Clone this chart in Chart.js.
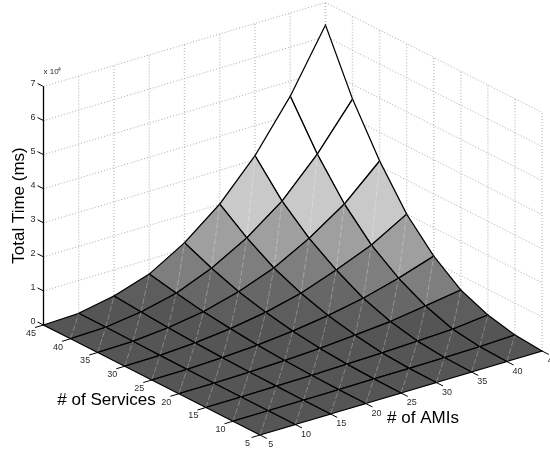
<!DOCTYPE html>
<html>
<head>
<meta charset="utf-8">
<title>Total time surface</title>
<style>
  html, body { margin: 0; padding: 0; background: #fff; }
  canvas { display: block; }
</style>
<script src="https://cdn.jsdelivr.net/npm/chart.js@4/dist/chart.umd.min.js"></script>
</head>
<body>
<canvas id="chart" width="550" height="450"></canvas>
<script>
// axis values
const services = [5, 10, 15, 20, 25, 30, 35, 40, 45];
const amis = [5, 10, 15, 20, 25, 30, 35, 40, 45];
const zTicks = [0, 1, 2, 3, 4, 5, 6, 7];

// total time in ms, one array per # of services, one value per # of AMIs
const timeS5 = [0, 0, 0, 0, 0, 0, 0, 0, 0];
const timeS10 = [0, 0, 0, 50, 100, 100, 200, 300, 660];
const timeS15 = [0, 0, 100, 200, 400, 600, 1000, 1400, 2500];
const timeS20 = [0, 0, 200, 500, 1000, 1800, 2700, 4200, 5800];
const timeS25 = [0, 50, 400, 1000, 2000, 3500, 5500, 8300, 11700];
const timeS30 = [0, 100, 700, 1800, 3500, 6000, 9760, 14000, 20000];
const timeS35 = [0, 200, 1100, 2700, 5500, 9400, 15000, 22000, 31550];
const timeS40 = [0, 300, 1700, 4100, 8350, 14200, 21900, 32600, 45700];
const timeS45 = [0, 350, 2350, 5700, 11800, 20100, 31200, 45600, 63400];
const totalTime = [timeS5, timeS10, timeS15, timeS20, timeS25, timeS30, timeS35, timeS40, timeS45];

const zScale = 10000; // the "x 10^4" on the axis

// view of the box: where the front corner lands and how each axis runs on screen
const front = { x: 260, y: 435 };
const perService = { x: -5.4125, y: -2.75 };
const perAmi = { x: 7.05, y: -2.1 };
const perZ = -34.07;

function project(s, a, z) {
  return {
    x: front.x + (s - 5) * perService.x + (a - 5) * perAmi.x,
    y: front.y + (s - 5) * perService.y + (a - 5) * perAmi.y + z * perZ
  };
}

// flat shading, a cell takes the gray of its first corner
function cellColor(z) {
  if (z >= 2.1) return '#ffffff';
  if (z >= 1.2) return '#c9c9c9';
  if (z >= 0.7) return '#9f9f9f';
  if (z >= 0.38) return '#7e7e7e';
  if (z >= 0.24) return '#676767';
  if (z >= 0.13) return '#5d5d5d';
  return '#555555';
}

function lineSet(points, color, width, dash) {
  return {
    data: points,
    showLine: true,
    fill: false,
    tension: 0,
    pointRadius: 0,
    borderColor: color,
    borderWidth: width,
    borderDash: dash || [],
    borderCapStyle: 'butt'
  };
}

const drawList = [];
const sMin = services[0], sMax = services[services.length - 1];
const aMin = amis[0], aMax = amis[amis.length - 1];
const zTop = zTicks[zTicks.length - 1];
const dotted = [1, 2];

// back walls
amis.slice(1).forEach(a => {
  drawList.push(lineSet([project(sMax, a, 0), project(sMax, a, zTop)], '#c6c6c6', 1.5, dotted));
});
services.forEach(s => {
  drawList.push(lineSet([project(s, aMax, 0), project(s, aMax, zTop)], '#c6c6c6', 1.5, dotted));
});
zTicks.forEach(z => {
  drawList.push(lineSet([project(sMax, aMin, z), project(sMax, aMax, z)], '#a8a8a8', 1, dotted));
  drawList.push(lineSet([project(sMax, aMax, z), project(sMin, aMax, z)], '#a8a8a8', 1, dotted));
});

// z axis and its ticks
drawList.push(lineSet([project(sMax, aMin, 0), project(sMax, aMin, zTop)], '#000', 1.3));
zTicks.forEach(z => {
  drawList.push(lineSet([project(sMax, aMin, z), project(sMax + 1.1, aMin, z)], '#000', 1));
});

// surface, back to front
for (let i = services.length - 2; i >= 0; i--) {
  for (let j = amis.length - 2; j >= 0; j--) {
    const s0 = services[i], s1 = services[i + 1];
    const a0 = amis[j], a1 = amis[j + 1];
    const z00 = totalTime[i][j] / zScale, z01 = totalTime[i][j + 1] / zScale;
    const z10 = totalTime[i + 1][j] / zScale, z11 = totalTime[i + 1][j + 1] / zScale;
    const corners = [project(s0, a0, z00), project(s0, a1, z01), project(s1, a1, z11), project(s1, a0, z10), project(s0, a0, z00)];
    const cell = lineSet(corners, '#000', 1.25);
    cell.fill = 'shape';
    cell.backgroundColor = cellColor(z00);
    drawList.push(cell);
    // faint seam up the middle of each cell
    drawList.push(lineSet([corners[0], corners[2]], 'rgba(255,255,255,0.28)', 1, [6, 2]));
  }
}

// ticks on the floor edges
services.forEach(s => {
  drawList.push(lineSet([project(s, aMin, 0), project(s, aMin - 1.2, 0)], '#000', 1));
});
amis.forEach(a => {
  drawList.push(lineSet([project(sMin, a, 0), project(sMin - 1.25, a, 0)], '#000', 1));
});

// chart.js paints the first dataset last
const datasets = drawList.slice().reverse();

const axisText = {
  id: 'axisText',
  afterDraw(chart) {
    const { ctx, scales } = chart;
    const at = p => ({ x: scales.x.getPixelForValue(p.x), y: scales.y.getPixelForValue(p.y) });
    ctx.save();
    ctx.textBaseline = 'middle';
    ctx.textAlign = 'center';
    ctx.fillStyle = '#2a2a2a';
    ctx.font = '9px "Liberation Sans"';
    zTicks.forEach(z => {
      const p = at(project(sMax, aMin, z));
      ctx.fillText(String(z), p.x - 10.5, p.y - 3);
    });
    services.forEach(s => {
      const p = at(project(s, aMin, 0));
      ctx.fillText(String(s), p.x - 12.5, p.y + 8.3);
    });
    amis.forEach(a => {
      const p = at(project(sMin, a, 0));
      ctx.fillText(String(a), p.x + 10.8, p.y + 9.6);
    });

    ctx.textAlign = 'left';
    ctx.font = '8px "Liberation Sans"';
    ctx.fillText('x 10', 43.5, 72);
    ctx.font = '5px "Liberation Sans"';
    ctx.fillText('4', 58, 69.5);

    ctx.fillStyle = '#000';
    ctx.font = '17px "Liberation Sans"';
    ctx.textAlign = 'center';
    ctx.fillText('# of Services', 106.5, 400);
    ctx.fillText('# of AMIs', 423, 418);
    ctx.translate(19, 205.5);
    ctx.rotate(-Math.PI / 2);
    ctx.fillText('Total Time (ms)', 0, 0);
    ctx.restore();
  }
};

new Chart(document.getElementById('chart'), {
  type: 'scatter',
  data: { datasets: datasets },
  options: {
    responsive: false,
    animation: false,
    layout: { padding: 0 },
    plugins: { legend: { display: false }, tooltip: { enabled: false }, title: { display: false } },
    scales: {
      x: { type: 'linear', display: false, min: 0, max: 550 },
      y: { type: 'linear', display: false, min: 0, max: 450, reverse: true }
    }
  },
  plugins: [axisText]
});
</script>
</body>
</html>
